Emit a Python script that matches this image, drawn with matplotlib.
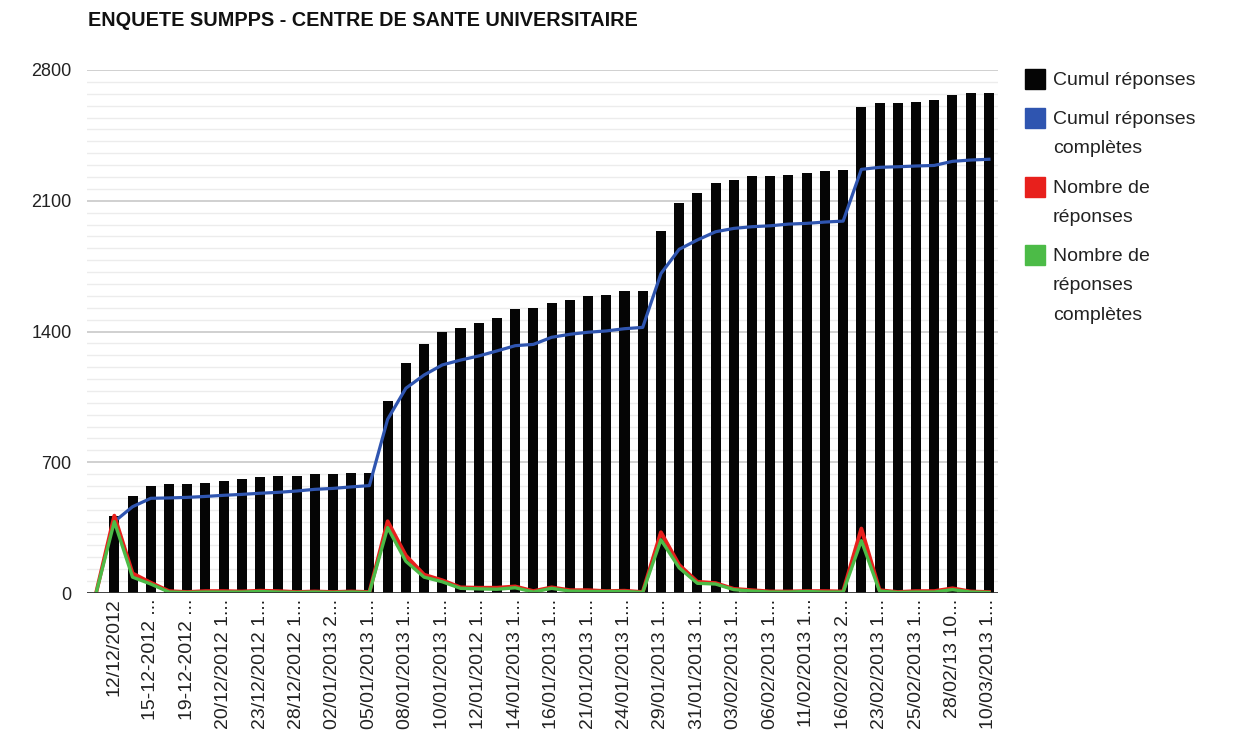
import matplotlib.pyplot as plt
import numpy as np
from matplotlib.patches import Rectangle
from matplotlib.transforms import ScaledTranslation

plt.rcParams['font.family'] = ['Liberation Sans', 'DejaVu Sans']

# donnees (index 0 = point de depart vide)
cumul_reponses = [np.nan, 414, 521, 574, 582, 582, 591, 601, 609, 619, 626, 626, 635, 635, 644, 644,
                  1028, 1233, 1331, 1396, 1420, 1447, 1472, 1519, 1526, 1552, 1570, 1590, 1597, 1615, 1615,
                  1938, 2088, 2140, 2193, 2211, 2230, 2230, 2239, 2247, 2257, 2264,
                  2603, 2621, 2621, 2630, 2639, 2666, 2675, 2675]
cumul_completes = [np.nan, 382, 462, 507, 509, 512, 517, 523, 528, 534, 539, 546, 555, 560, 568, 575,
                   930, 1096, 1167, 1221, 1247, 1269, 1296, 1324, 1331, 1369, 1385, 1396, 1403, 1415, 1422,
                   1710, 1840, 1890, 1934, 1952, 1961, 1966, 1975, 1979, 1986, 1991,
                   2268, 2279, 2282, 2286, 2289, 2311, 2318, 2322]
nb_reponses = [0, 414, 105, 55, 10, 5, 10, 10, 8, 12, 10, 5, 8, 5, 8, 5,
               384, 200, 98, 68, 30, 28, 28, 35, 10, 30, 15, 15, 10, 12, 5,
               325, 150, 60, 53, 22, 15, 8, 8, 10, 10, 8,
               345, 15, 5, 10, 10, 25, 8, 5]
nb_completes = [0, 382, 85, 48, 5, 3, 5, 5, 5, 8, 5, 3, 5, 3, 5, 3,
                350, 170, 85, 60, 25, 22, 20, 28, 5, 25, 10, 8, 8, 8, 3,
                285, 135, 52, 48, 18, 10, 5, 5, 8, 5, 5,
                280, 10, 3, 5, 5, 18, 5, 3]

# une etiquette sur deux (categories impaires)
date_labels = ["12/12/2012", "15-12-2012 ...", "19-12-2012 ...", "20/12/2012 1...", "23/12/2012 1...",
               "28/12/2012 1...", "02/01/2013 2...", "05/01/2013 1...", "08/01/2013 1...", "10/01/2013 1...",
               "12/01/2012 1...", "14/01/2013 1...", "16/01/2013 1...", "21/01/2013 1...", "24/01/2013 1...",
               "29/01/2013 1...", "31/01/2013 1...", "03/02/2013 1...", "06/02/2013 1...", "11/02/2013 1...",
               "16/02/2013 2...", "23/02/2013 1...", "25/02/2013 1...", "28/02/13 10...", "10/03/2013 1..."]
series_names = ["Cumul réponses", "Cumul réponses\ncomplètes", "Nombre de\nréponses",
                "Nombre de\nréponses\ncomplètes"]
colors = ["#050505", "#2f55b0", "#e8201c", "#4cbb47"]

x = np.arange(len(cumul_reponses))

fig = plt.figure(figsize=(12.39, 7.31), dpi=100)
ax = fig.add_axes([87/1239, 1-593/731, 911/1239, 523/731])

# grille : principales tous les 700, 10 secondaires entre
major = [0, 700, 1400, 2100, 2800]
minor = [v for v in np.linspace(0, 2800, 45) if v not in major]
for v in minor:
    ax.axhline(v, color="#ececec", lw=1, zorder=0)
for v in major[1:]:
    ax.axhline(v, color="#c8c8c8", lw=1.2, zorder=0)

ax.bar(x, cumul_reponses, width=0.55, color=colors[0], zorder=2)
ax.plot(x, cumul_completes, color=colors[1], lw=2.3, zorder=3)
ax.plot(x, nb_reponses, color=colors[2], lw=2.8, zorder=3)
ax.plot(x, nb_completes, color=colors[3], lw=2.4, zorder=4)
ax.axhline(0, color="#333333", lw=1.3, zorder=5)

ax.set_xlim(-0.5, len(x) - 0.5)
ax.set_ylim(0, 2800)
ax.set_yticks(major)
ax.set_yticklabels([str(v) for v in major], fontsize=13, color="#222222")
ax.set_xticks(x[1::2])
ax.set_xticklabels(date_labels, rotation=90, fontsize=14, color="#222222", va="top", ha="center")
for lab in ax.get_xticklabels():
    lab.set_transform(lab.get_transform() + ScaledTranslation(-6/100, 0, fig.dpi_scale_trans))
ax.tick_params(length=0, axis="both")
ax.tick_params(axis="y", pad=11)
ax.tick_params(axis="x", pad=4)
for s in ax.spines.values():
    s.set_visible(False)

fig.text(88/1239, 1-21/731, "ENQUETE SUMPPS - CENTRE DE SANTE UNIVERSITAIRE",
         fontsize=14.3, fontweight="bold", ha="left", va="center", color="#111111")

# legende
leg_y = [79, 118, 187, 255]
for name, col, yy in zip(series_names, colors, leg_y):
    fig.add_artist(Rectangle((1025/1239, 1-(yy+10)/731), 20/1239, 20/731,
                             transform=fig.transFigure, color=col))
    fig.text(1053/1239, 1-(yy-7)/731, name, fontsize=14, ha="left", va="top",
             linespacing=1.95, color="#222222")

fig.savefig("out.png", dpi=100)
